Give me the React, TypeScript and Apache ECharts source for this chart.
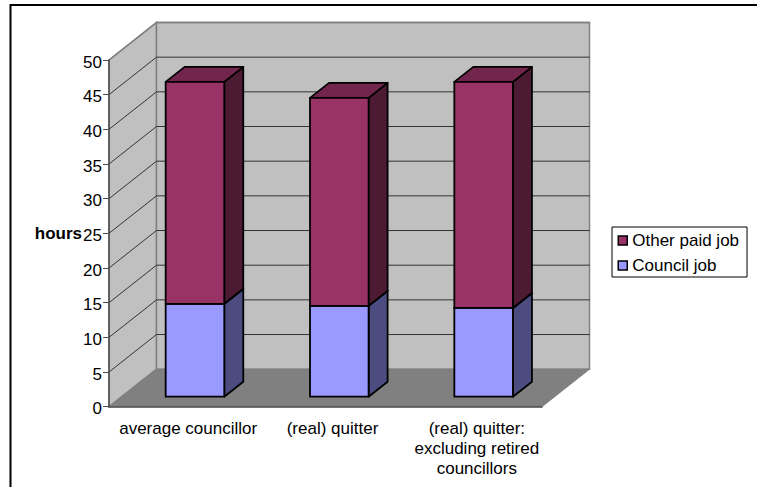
import React, { useEffect, useRef } from "react";
import * as echarts from "echarts";

const categories = [
  "average councillor",
  "(real) quitter",
  "(real) quitter:\nexcluding retired\ncouncillors",
];
const councilJob = [13.4, 13.1, 12.8];
const otherPaidJob = [32.0, 30.0, 32.6];
const hourTicks = [5, 10, 15, 20, 25, 30, 35, 40, 45, 50];

const FONT = "'Liberation Sans', Arial, sans-serif";
// Oblique projection of the chart box: how far the back plane is shifted.
const DEPTH_X = 47.5;
const DEPTH_Y = -37.5;
// The bars stand part-way into the box.
const BAR_DX = 13.8;
const BAR_DY = -10;
const BAR_SIDE_X = 19;
const BAR_SIDE_Y = -15;
const BAR_WIDTH_RATIO = 0.406;

function wallsItem(params: any) {
  const { x, y, width, height } = params.coordSys;
  const b = y + height;
  const r = x + width;
  const edge = { stroke: "#808080", lineWidth: 1.5 };
  return {
    type: "group",
    children: [
      {
        type: "polygon",
        shape: { points: [[x, b], [x, y], [x + DEPTH_X, y + DEPTH_Y], [x + DEPTH_X, b + DEPTH_Y]] },
        style: { fill: "#c0c0c0", ...edge },
      },
      {
        type: "polygon",
        shape: { points: [[x + DEPTH_X, y + DEPTH_Y], [r + DEPTH_X, y + DEPTH_Y], [r + DEPTH_X, b + DEPTH_Y], [x + DEPTH_X, b + DEPTH_Y]] },
        style: { fill: "#c0c0c0", ...edge },
      },
      {
        type: "polygon",
        shape: { points: [[x, b], [x + DEPTH_X, b + DEPTH_Y], [r + DEPTH_X, b + DEPTH_Y], [r, b]] },
        style: { fill: "#808080", stroke: "#808080", lineWidth: 1 },
      },
    ],
  };
}

function gridLineItem(params: any, api: any) {
  const { x, width } = params.coordSys;
  const v = api.value(0);
  const py = api.coord([0, v])[1];
  const backY = py + DEPTH_Y;
  return {
    type: "polyline",
    shape: {
      points: [[x, py], [x + DEPTH_X, backY], [x + width + DEPTH_X, backY]],
    },
    style: { fill: "none", stroke: v === 50 ? "#808080" : "#333333", lineWidth: v === 50 ? 1.5 : 1 },
  };
}

function barItem(front: string, side: string, top: string) {
  return (_params: any, api: any) => {
    const lo = api.coord([api.value(0), api.value(1)]);
    const hi = api.coord([api.value(0), api.value(2)]);
    const w = api.size([1, 0])[0] * BAR_WIDTH_RATIO;
    const l = lo[0] + BAR_DX - w / 2;
    const r = l + w;
    const yb = lo[1] + BAR_DY;
    const yt = hi[1] + BAR_DY;
    const line = { stroke: "#000000", lineWidth: 1.8, lineJoin: "round" };
    return {
      type: "group",
      children: [
        {
          type: "polygon",
          shape: { points: [[r, yb], [r, yt], [r + BAR_SIDE_X, yt + BAR_SIDE_Y], [r + BAR_SIDE_X, yb + BAR_SIDE_Y]] },
          style: { fill: side, ...line },
        },
        {
          type: "polygon",
          shape: { points: [[l, yt], [r, yt], [r + BAR_SIDE_X, yt + BAR_SIDE_Y], [l + BAR_SIDE_X, yt + BAR_SIDE_Y]] },
          style: { fill: top, ...line },
        },
        {
          type: "rect",
          shape: { x: l, y: yt, width: w, height: yb - yt },
          style: { fill: front, ...line },
        },
      ],
    };
  };
}

export default function App() {
  const ref = useRef<HTMLDivElement>(null);

  useEffect(() => {
    document.body.style.margin = "0";
    const chart = echarts.init(ref.current!, undefined, { renderer: "svg" });
    chart.setOption({
      animation: false,
      backgroundColor: "#ffffff",
      textStyle: { fontFamily: FONT },
      grid: { left: 109, top: 60, width: 433, height: 346.7, containLabel: false },
      graphic: [
        {
          type: "polyline",
          silent: true,
          shape: { points: [[10.5, 487], [10.5, 5], [757, 5]] },
          style: { fill: "none", stroke: "#000000", lineWidth: 2 },
        },
      ],
      legend: {
        orient: "vertical",
        left: 612,
        top: 227,
        padding: [5, 8, 3, 5.5],
        itemGap: 8,
        itemWidth: 9,
        itemHeight: 9,
        borderColor: "#000000",
        borderWidth: 1,
        backgroundColor: "#ffffff",
        icon: "rect",
        data: ["Other paid job", "Council job"],
        textStyle: { fontFamily: FONT, fontSize: 17, color: "#000000" },
        itemStyle: { borderColor: "#000000", borderWidth: 1.5 },
      },
      xAxis: {
        type: "category",
        data: categories,
        z: 5,
        axisLine: { lineStyle: { color: "#4d4d4d", width: 1.5 } },
        axisTick: { length: 6, lineStyle: { color: "#4d4d4d", width: 1 } },
        axisLabel: {
          interval: 0,
          margin: 12,
          fontFamily: FONT,
          fontSize: 17,
          lineHeight: 20,
          color: "#000000",
          padding: [0, 0, 0, 14],
        },
      },
      yAxis: {
        type: "value",
        min: 0,
        max: 50,
        interval: 5,
        z: 5,
        name: "hours",
        nameLocation: "middle",
        nameRotate: 0,
        nameGap: 27,
        nameMoveOverlap: false,
        nameTextStyle: { fontFamily: FONT, fontSize: 17, fontWeight: "bold", color: "#000000" },
        splitLine: { show: false },
        axisLine: { show: true, lineStyle: { color: "#4d4d4d", width: 1.5 } },
        axisTick: { show: true, length: 6, lineStyle: { color: "#4d4d4d", width: 1 } },
        axisLabel: {
          margin: 7,
          fontFamily: FONT,
          fontSize: 17,
          color: "#000000",
          verticalAlign: "top",
          lineHeight: 4,
        },
      },
      series: [
        {
          type: "custom",
          name: "walls",
          silent: true,
          z: 1,
          data: [[0, 0]],
          renderItem: wallsItem,
          encode: { x: 0, y: 1 },
        },
        {
          type: "custom",
          name: "gridlines",
          silent: true,
          z: 1.5,
          data: hourTicks.map((v) => [v]),
          renderItem: gridLineItem,
          encode: { y: 0 },
        },
        {
          type: "custom",
          name: "Council job",
          z: 2,
          itemStyle: { color: "#9999ff" },
          data: councilJob.map((v, i) => [i, 0, v]),
          renderItem: barItem("#9999ff", "#4c4c80", "#7373bf"),
          encode: { x: 0, y: [1, 2] },
        },
        {
          type: "custom",
          name: "Other paid job",
          z: 3,
          itemStyle: { color: "#993366" },
          data: otherPaidJob.map((v, i) => [i, councilJob[i], councilJob[i] + v]),
          renderItem: barItem("#993366", "#4c1a33", "#73264d"),
          encode: { x: 0, y: [1, 2] },
        },
      ],
    });
    return () => chart.dispose();
  }, []);

  return <div ref={ref} style={{ width: 757, height: 487 }} />;
}
